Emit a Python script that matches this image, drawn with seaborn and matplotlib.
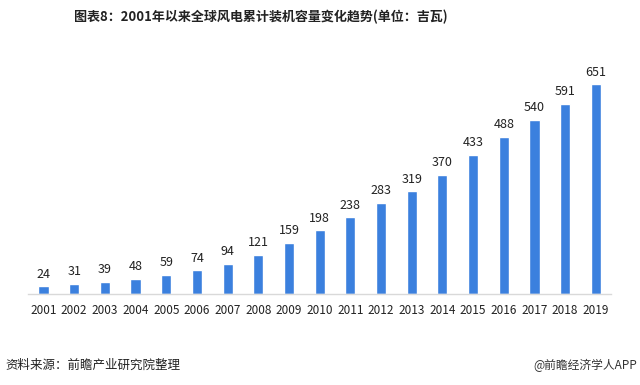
import matplotlib
matplotlib.use("Agg")
import matplotlib.pyplot as plt
import seaborn as sns
import pandas as pd

# ── Data ──────────────────────────────────────────────────────────────────────
years = [str(y) for y in range(2001, 2020)]
capacity = [24, 31, 39, 48, 59, 74, 94, 121, 159, 198, 238, 283, 319, 370,
            433, 488, 540, 591, 651]

title = "图表8：2001年以来全球风电累计装机容量变化趋势(单位：吉瓦)"
source = "资料来源：前瞻产业研究院整理"
brand = "@前瞻经济学人APP"

BAR_COLOR = "#3B80DE"

sns.set_style("white")
plt.rcParams["font.family"] = ["Noto Sans CJK SC", "DejaVu Sans"]

df = pd.DataFrame({"year": years, "capacity": capacity})

fig = plt.figure(figsize=(6.4, 3.85), dpi=100)
ax = fig.add_axes([0.044, 0.236, 0.911, 0.64])

sns.barplot(data=df, x="year", y="capacity", color=BAR_COLOR, width=0.33,
            saturation=1, ax=ax)

for i, v in enumerate(capacity):
    ax.text(i, v + 18, str(v), ha="center", va="bottom", fontsize=9, color="#222222")

ax.set_ylim(0, 765)
ax.set_xlim(-0.5, len(years) - 0.5)
ax.set_xlabel("")
ax.set_ylabel("")
ax.set_yticks([])
ax.tick_params(axis="x", length=0, labelsize=8.5, colors="#222222", pad=7)
for side in ["top", "right", "left"]:
    ax.spines[side].set_visible(False)
ax.spines["bottom"].set_color("#d9d9d9")
ax.spines["bottom"].set_linewidth(1)

fig.text(0.408, 0.955, title, ha="center", va="center", fontsize=9.4,
         fontweight="bold", color="#222222")
fig.text(0.008, 0.05, source, ha="left", va="center", fontsize=9, color="#222222")
fig.text(0.995, 0.05, brand, ha="right", va="center", fontsize=8.5, color="#333333")

fig.savefig("out.png", dpi=100)
